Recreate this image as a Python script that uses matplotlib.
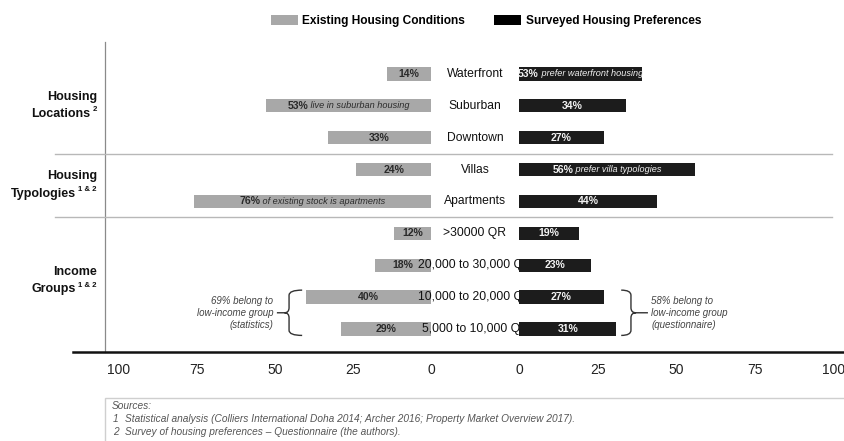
import matplotlib
matplotlib.use("Agg")
import matplotlib.pyplot as plt
from matplotlib.patches import Patch, Rectangle, PathPatch
from matplotlib.path import Path
from matplotlib.lines import Line2D
from matplotlib.text import Annotation
from matplotlib.transforms import blended_transform_factory
from matplotlib.font_manager import FontProperties

plt.rcParams['font.family'] = ['Liberation Sans', 'DejaVu Sans']

# ---------------- data ----------------
categories = ["Waterfront", "Suburban", "Downtown", "Villas", "Apartments",
              ">30000 QR", "20,000 to 30,000 QR", "10,000 to 20,000 QR", "5,000 to 10,000 QR"]
existing = [14, 53, 33, 24, 76, 12, 18, 40, 29]
existing_labels = ["14%", "53%", "33%", "24%", "76%", "12%", "18%", "40%", "29%"]
existing_notes = ["", "live in suburban housing", "", "", "of existing stock is apartments", "", "", "", ""]
preferred = [39, 34, 27, 56, 44, 19, 23, 27, 31]
preferred_labels = ["53%", "34%", "27%", "56%", "44%", "19%", "23%", "27%", "31%"]
preferred_notes = ["prefer waterfront housing", "", "", "prefer villa typologies", "", "", "", "", ""]
group_line1 = ["Housing", "Housing", "Income"]
group_line2 = ["Locations", "Typologies", "Groups"]
group_sup = ["2", "1 & 2", "1 & 2"]
group_rows = [(0, 2), (3, 4), (5, 8)]
left_ticks = [100, 75, 50, 25, 0]
right_ticks = [0, 25, 50, 75, 100]
legend_labels = ["Existing Housing Conditions", "Surveyed Housing Preferences"]
left_bracket_text = "69% belong to\nlow-income group\n(statistics)"
right_bracket_text = "58% belong to\nlow-income group\n(questionnaire)"
sources = ["Sources:",
           "Statistical analysis (Colliers International Doha 2014; Archer 2016; Property Market Overview 2017).",
           "Survey of housing preferences \u2013 Questionnaire (the authors)."]

GRAY = "#a8a8a8"
BLACK = "#1c1c1c"
NARROW = ['Liberation Sans', 'DejaVu Sans']

W, H = 845, 441
fig = plt.figure(figsize=(W / 100, H / 100), dpi=100)

ax_top, ax_bot = 42, 352
ax_l = fig.add_axes([105 / W, 1 - ax_bot / H, (431 - 105) / W, (ax_bot - ax_top) / H])
ax_r = fig.add_axes([519 / W, 1 - ax_bot / H, (836 - 519) / W, (ax_bot - ax_top) / H])
ax_r.patch.set_visible(False)
ax_l.patch.set_visible(False)

n = len(categories)
rows = list(range(n))
for ax in (ax_l, ax_r):
    ax.set_ylim(8.72, -1.0)
    ax.set_yticks([])
    for s in ax.spines.values():
        s.set_visible(False)
    ax.tick_params(axis='x', length=0, pad=8)
ax_l.set_xlim(104.5, 0)
ax_r.set_xlim(0, 100.8)
ax_l.spines['left'].set_visible(True)
ax_l.spines['left'].set_color('#8a8a8a')
ax_l.spines['left'].set_linewidth(0.9)

ax_l.set_xticks(left_ticks)
ax_r.set_xticks(right_ticks)
tickfont = FontProperties(family=NARROW, size=10)
ax_l.set_xticklabels([str(t) for t in left_ticks], fontproperties=tickfont, color='#222')
ax_r.set_xticklabels([str(t) for t in right_ticks], fontproperties=tickfont, color='#222')

bh = 0.42
ax_l.barh(rows, existing, height=bh, color=GRAY, zorder=1)
ax_r.barh(rows, preferred, height=bh, color=BLACK, zorder=1)

# category labels (in ax_l so black bars overlap them)
mid_x = (431 + 519) / 2 / W
trans_mid = blended_transform_factory(fig.transFigure, ax_l.transData)
for r, c in zip(rows, categories):
    ax_l.text(mid_x, r, c, transform=trans_mid, ha='center', va='center',
              fontsize=8.7, color='#111', clip_on=False, zorder=3)

fig.canvas.draw()
renderer = fig.canvas.get_renderer()


def mixed_label(ax, xc, y, bold, note, color):
    t1 = ax.annotate(bold, xy=(xc, y), xytext=(0, 0), textcoords='offset points',
                     ha='left', va='center', fontsize=7.6, fontweight='bold', color=color, zorder=4,
                     annotation_clip=False)
    if not note:
        t1.set_ha('center')
        return
    t2 = ax.annotate(" " + note, xy=(1, 0.5), xycoords=t1, ha='left', va='center',
                     fontsize=6.6, fontstyle='italic', color=color, zorder=4, family=NARROW)
    w1 = t1.get_window_extent(renderer).width
    w2 = t2.get_window_extent(renderer).width
    t1.set_position((-(w1 + w2) / 2 * 72 / fig.dpi, 0))


for r in rows:
    mixed_label(ax_l, existing[r] / 2, r, existing_labels[r], existing_notes[r], '#2a2a2a')
    mixed_label(ax_r, preferred[r] / 2, r, preferred_labels[r], preferred_notes[r], '#f2f2f2')

# separators
for yy in (2.5, 4.5):
    fig.add_artist(Line2D([55 / W, 832 / W], [yy, yy], color='#b8b8b8', lw=1.0, transform=trans_mid))

# bottom axis line
fig.add_artist(Line2D([73 / W, 1.0], [1 - ax_bot / H, 1 - ax_bot / H], color='#111', lw=1.8,
                      transform=fig.transFigure))

# group labels
for l1, l2, sp, (a, b) in zip(group_line1, group_line2, group_sup, group_rows):
    yc = (a + b) / 2 - 0.04
    fig.text(97 / W, yc - 0.25, l1, transform=trans_mid, ha='right', va='center',
             fontsize=9.0, fontweight='bold', color='#111')
    s = fig.text(97 / W, yc + 0.17, sp, transform=trans_mid, ha='right', va='center',
                 fontsize=5.6, fontweight='bold', color='#111')
    fig.add_artist(Annotation(l2, xy=(0, 0.5), xycoords=s, xytext=(-2, -2.8),
                              textcoords='offset points', ha='right', va='center',
                              fontsize=9.0, fontweight='bold', color='#111'))


# brackets
def bracket(ax, xv, xh, xt, xe, y0, y1):
    ym = (y0 + y1) / 2
    r = 0.16
    verts = [(xh, y0), (xv, y0), (xv, y0 + r), (xv, ym - r), (xv, ym), (xt, ym),
             (xv, ym), (xv, ym + r), (xv, y1 - r), (xv, y1), (xh, y1),
             (xt, ym), (xe, ym)]
    codes = [Path.MOVETO, Path.CURVE3, Path.CURVE3, Path.LINETO, Path.CURVE3, Path.CURVE3,
             Path.CURVE3, Path.CURVE3, Path.LINETO, Path.CURVE3, Path.CURVE3,
             Path.MOVETO, Path.LINETO]
    ax.add_patch(PathPatch(Path(verts, codes), fill=False, ec='#333', lw=1.0, clip_on=False))


lx = max(existing[7], existing[8])
bracket(ax_l, lx + 5.5, lx + 1.3, lx + 7.0, lx + 9.4, 6.78, 8.2)
ax_l.text(lx + 10.6, 7.5, left_bracket_text, ha='right', va='center', multialignment='right',
          fontsize=7.0, fontstyle='italic', color='#444', linespacing=1.25, family=NARROW)
rx = max(preferred[7], preferred[8])
bracket(ax_r, rx + 4.6, rx + 1.5, rx + 6.2, rx + 10.0, 6.78, 8.2)
ax_r.text(rx + 11.0, 7.5, right_bracket_text, ha='left', va='center', multialignment='left',
          fontsize=7.0, fontstyle='italic', color='#444', linespacing=1.25, family=NARROW)

# legend
handles = [Patch(facecolor=GRAY, edgecolor='none'), Patch(facecolor='black', edgecolor='none')]
fig.legend(handles, legend_labels, loc='center', bbox_to_anchor=(486 / W, 1 - 21 / H), ncol=2,
           frameon=False, prop=FontProperties(family=NARROW, weight='bold', size=8.6),
           handlelength=2.3, handleheight=1.0, handletextpad=0.35, columnspacing=2.4)

# sources box
fig.add_artist(Rectangle((105 / W, -0.05), 1.0, 1 - 398 / H + 0.05, transform=fig.transFigure,
                         fill=False, ec='#cfcfcf', lw=1.0))
fig.text(112 / W, 1 - 406 / H, sources[0], ha='left', va='center', fontsize=7.3,
         fontstyle='italic', color='#555', family=NARROW)
for i, s in enumerate(sources[1:]):
    yy = 1 - (419 + 13 * i) / H
    fig.text(113 / W, yy, str(i + 1), ha='left', va='center', fontsize=7.3,
             fontstyle='italic', color='#555', family=NARROW)
    fig.text(125 / W, yy, s, ha='left', va='center', fontsize=7.3,
             fontstyle='italic', color='#555', family=NARROW)

fig.savefig("out.png", dpi=100)
